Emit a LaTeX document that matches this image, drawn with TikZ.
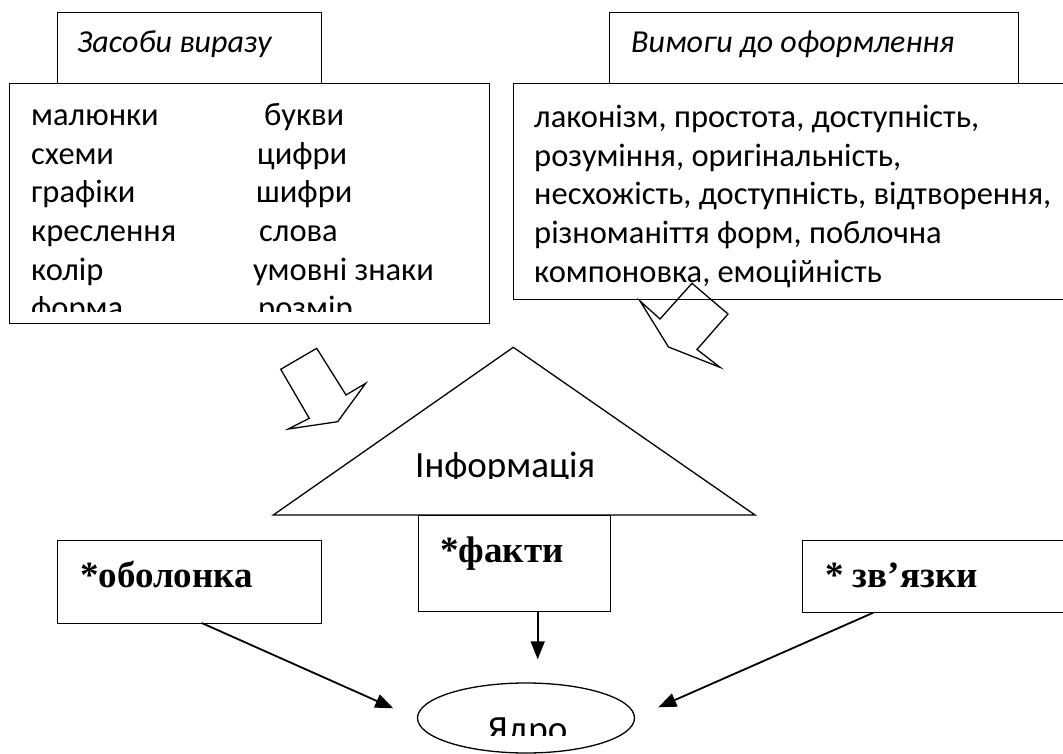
\documentclass[tikz,border=0pt]{standalone}
\usepackage{fontspec}
\setmainfont{Carlito}
\newfontfamily\tnr{Liberation Serif}
\usetikzlibrary{arrows.meta,shapes.geometric}
\begin{document}
\begin{tikzpicture}[x=1pt,y=-1pt,
  box/.style={draw,line width=1.3pt,fill=white,inner sep=0pt,anchor=north west},
  txt/.style={anchor=base west,inner sep=0pt,font=\fontsize{32.5}{32.5}\selectfont},
  big/.style={anchor=base west,inner sep=0pt,font=\fontsize{37}{37}\selectfont},
  ital/.style={anchor=base west,inner sep=0pt,font=\fontsize{32}{32}\selectfont\itshape},
  bld/.style={anchor=base west,inner sep=0pt,font=\fontsize{37}{37}\selectfont\tnr\bfseries},
  blk/.style={draw,line width=1.3pt,line join=miter},
  conn/.style={draw,line width=1.8pt,-{Triangle[length=18pt,width=14pt]}}]
\useasboundingbox (0,0) rectangle (1063,754);

% top headers
\node[box,minimum width=264,minimum height=71] (zasobyhead) at (57,12) {};
\node[box,minimum width=409,minimum height=71] (vymohyhead) at (609,12) {};
\node[ital] (tzasoby) at (77,53) {Засоби виразу};
\node[ital] (tvymohy) at (631,53) {Вимоги до оформлення};

% main boxes
\node[box,minimum width=480,minimum height=240] (zasoby) at (9,83) {};
\node[box,minimum width=570,minimum height=216] (vymohy) at (513,83) {};

\begin{scope}
\clip (9,83) rectangle (489,311);
\node[txt] (l1) at (31,126) {малюнки};
\node[txt] (l2) at (31,164.5) {схеми};
\node[txt] (l3) at (31,203) {графіки};
\node[txt] (l4) at (31,241.5) {креслення};
\node[txt] (l5) at (31,280) {колір};
\node[txt] (l6) at (31,318.5) {форма};
\node[txt] (r1) at (264,126) {букви};
\node[txt] (r2) at (257,164.5) {цифри};
\node[txt] (r3) at (256,203) {шифри};
\node[txt] (r4) at (259,241.5) {слова};
\node[txt] (r5) at (253,280) {умовні знаки};
\node[txt] (r6) at (258,318.5) {розмір};
\end{scope}

\node[txt] (v1) at (534,128) {лаконізм, простота, доступність,};
\node[txt] (v2) at (534,166.5) {розуміння, оригінальність,};
\node[txt] (v3) at (534,205) {несхожість, доступність, відтворення,};
\node[txt] (v4) at (534,243.5) {різноманіття форм, поблочна};
\node[txt] (v5) at (534,282) {компоновка, емоційність};

% block arrows
\draw[blk] (316.7,348.3) -- (280.7,369.3) -- (309.3,418.3) -- (288.3,429) -- (337.7,421.7) -- (365.7,383.3) -- (346,395) -- cycle;
\draw[blk] (640,301) -- (660,319) -- (692,283.3) -- (728,314) -- (697,349.5) -- (720,367.3) -- (668.5,347) -- cycle;

% triangle
\coordinate (apex) at (513.3,347.3);
\coordinate (bl) at (273.3,515);
\coordinate (br) at (755,515);
\draw[line width=1.3pt,line join=miter] (bl) -- (apex) -- (br) -- cycle;
\begin{scope}
\clip (273,440) rectangle (755,478);
\node[big] (info) at (415,477) {Інформація};
\end{scope}

% bottom boxes
\node[box,minimum width=192,minimum height=96] (fakty) at (417.5,515) {};
\node[bld] (tfakty) at (440,562) {*факти};
\node[box,minimum width=264,minimum height=83] (obolonka) at (56.7,540) {};
\node[bld] (tobolonka) at (80,587) {*оболонка};
\node[box,minimum width=280,minimum height=72] (zviazky) at (801.7,540) {};
\node[bld] (tzviazky) at (825,587) {* зв’язки};

% core
\node[draw,ellipse,line width=1.3pt,inner sep=0pt,minimum width=217,minimum height=70] (yadro) at (526,718) {};
\begin{scope}
\clip (420,690) rectangle (630,735);
\node[big] (tyadro) at (487,741) {Ядро};
\end{scope}

% connectors
\coordinate (s1) at (201.7,623);
\coordinate (t1) at (393.3,708.3);
\coordinate (s2) at (537.7,611);
\coordinate (t2) at (537.7,659.3);
\coordinate (s3) at (873.3,612.7);
\coordinate (t3) at (658.3,707.3);
\draw[conn] (s1) -- (t1);
\draw[conn] (s2) -- (t2);
\draw[conn] (s3) -- (t3);
\end{tikzpicture}
\end{document}
